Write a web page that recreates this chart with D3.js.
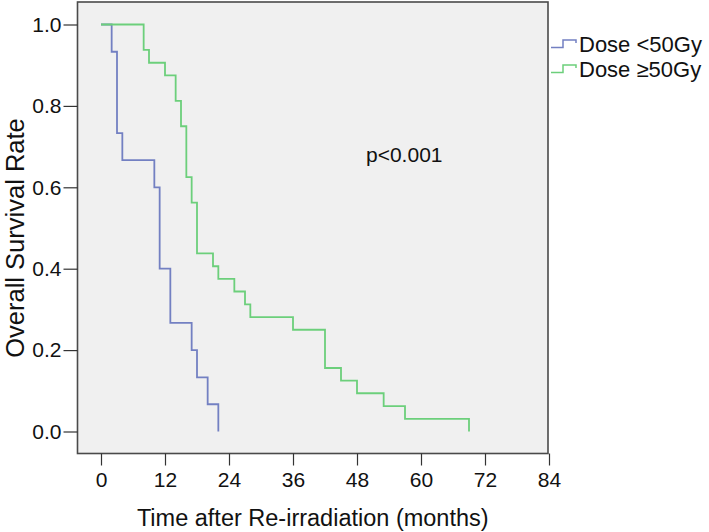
<!DOCTYPE html>
<html><head><meta charset="utf-8">
<script src="https://cdn.jsdelivr.net/npm/d3@7"></script>
<style>body{margin:0;background:#fff;}svg{display:block;font-family:"Liberation Sans",Arial,sans-serif;}</style>
</head><body>
<svg id="c" width="709" height="532"></svg>
<script>
// Kaplan-Meier steps: event times (months) and survival after each event
const lowDoseTimes = [0, 2, 3, 4, 10, 11, 13, 17, 18, 20, 22];
const lowDoseSurv  = [1, 0.933, 0.733, 0.667, 0.6, 0.4, 0.267, 0.2, 0.133, 0.067, 0];
const highDoseTimes = [0, 8, 9, 12, 14, 15, 16, 17, 18, 21, 22, 25, 27, 28, 36, 42, 45, 48, 53, 57, 69];
const highDoseSurv  = [1, 0.9375, 0.906, 0.875, 0.8125, 0.75, 0.625, 0.5625, 0.4375, 0.406, 0.375, 0.344, 0.3125, 0.281, 0.25, 0.156, 0.125, 0.094, 0.0625, 0.031, 0];
const xTicks = [0, 12, 24, 36, 48, 60, 72, 84];
const yTicks = [0.0, 0.2, 0.4, 0.6, 0.8, 1.0];
const seriesNames = ["Dose <50Gy", "Dose \u226550Gy"];
const seriesColors = ["#7380c2", "#6ccf7b"];
const pText = "p<0.001";

const svg = d3.select("#c");
const box = {l: 77.5, r: 548, t: 2, b: 453.5};
const x = d3.scaleLinear().domain([0, 84]).range([101, 549]);
const y = d3.scaleLinear().domain([0, 1]).range([431.5, 24.5]);

svg.append("rect").attr("x", box.l).attr("y", box.t).attr("width", box.r - box.l).attr("height", box.b - box.t)
  .attr("fill", "#f0f0f0").attr("stroke", "#4a4a4a").attr("stroke-width", 1.6);

// y axis
const yAxis = d3.axisLeft(y).tickValues(yTicks).tickFormat(d3.format(".1f")).tickSize(14).tickPadding(2);
const gy = svg.append("g").attr("transform", `translate(${box.l},0)`).call(yAxis);
gy.select(".domain").remove();
gy.selectAll(".tick line").attr("stroke", "#333").attr("stroke-width", 1.2);
gy.selectAll(".tick text").attr("font-size", 21).attr("fill", "#111").attr("font-family", '"Liberation Sans",Arial,sans-serif');

// x axis
const xAxis = d3.axisBottom(x).tickValues(xTicks).tickFormat(d3.format("d")).tickSize(12).tickPadding(7);
const gx = svg.append("g").attr("transform", `translate(0,${box.b})`).call(xAxis);
gx.select(".domain").remove();
gx.selectAll(".tick line").attr("stroke", "#333").attr("stroke-width", 1.2);
gx.selectAll(".tick text").attr("font-size", 21).attr("fill", "#111").attr("font-family", '"Liberation Sans",Arial,sans-serif');

// axis titles
svg.append("text").attr("x", (box.l + box.r) / 2).attr("y", 526).attr("text-anchor", "middle")
  .attr("font-size", 23.5).attr("fill", "#111").text("Time after Re-irradiation (months)");
svg.append("text").attr("transform", `translate(24,${(y(0) + y(1)) / 2 + 10}) rotate(-90)`).attr("text-anchor", "middle")
  .attr("font-size", 25.5).attr("fill", "#111").text("Overall Survival Rate");

// step lines
function stepPoints(times, surv) {
  const pts = [];
  for (let i = 0; i < times.length; i++) {
    if (i > 0) pts.push([times[i], surv[i - 1]]);
    pts.push([times[i], surv[i]]);
  }
  return pts;
}
const line = d3.line().x(d => x(d[0])).y(d => y(d[1]));
const data = [stepPoints(lowDoseTimes, lowDoseSurv), stepPoints(highDoseTimes, highDoseSurv)];
data.forEach((pts, i) => {
  svg.append("path").attr("d", line(pts)).attr("fill", "none").attr("stroke", seriesColors[i]).attr("stroke-width", 1.8);
});

// p-value
svg.append("text").attr("x", 366).attr("y", 162).attr("font-size", 21).attr("fill", "#111").text(pText);

// legend
const leg = svg.append("g");
seriesNames.forEach((name, i) => {
  const yy = 44 + i * 25;
  leg.append("path").attr("d", `M551,${yy + 3.5}H563V${yy - 4}H576V${yy - 1}`)
    .attr("fill", "none").attr("stroke", seriesColors[i]).attr("stroke-width", 1.5);
  leg.append("text").attr("x", 579).attr("y", yy + 7.5).attr("font-size", 22).attr("fill", "#111").text(name);
});
</script>
</body></html>
